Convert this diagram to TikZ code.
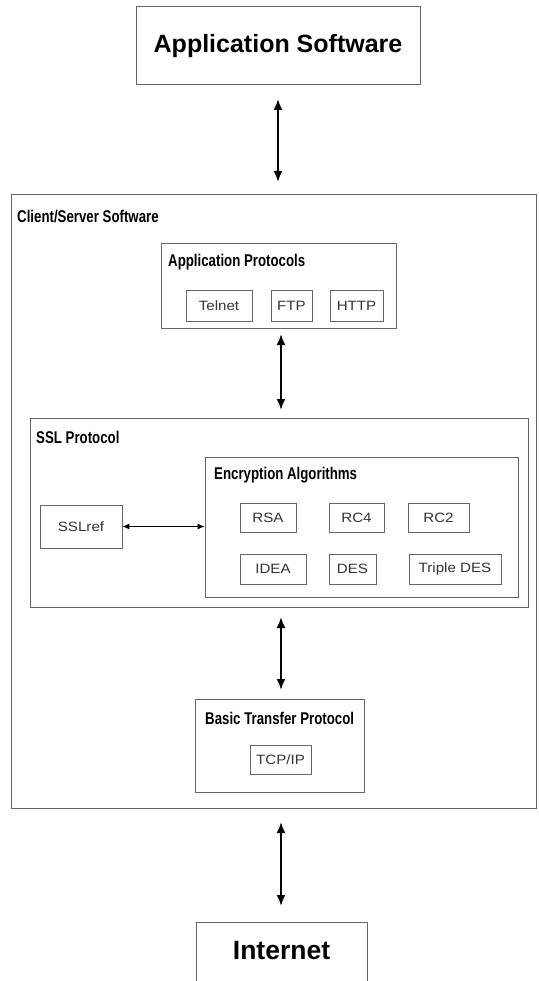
\documentclass[tikz,border=0pt]{standalone}
\usepackage{fontspec}
\setmainfont{Liberation Sans}
\newfontfamily\titlefont{Liberation Sans Bold}
\newfontfamily\groupfont[FakeStretch=0.78]{Liberation Sans Bold}
\newfontfamily\itemfont[FakeStretch=1.12]{Liberation Sans}
\usetikzlibrary{arrows.meta}

\tikzset{
  frame/.style={draw=black!60, line width=0.8pt, rectangle, inner sep=0pt},
  itembox/.style={frame, font=\itemfont\fontsize{13.5}{14}\selectfont, text=black!80},
  grouplabel/.style={anchor=west, inner sep=0pt, font=\groupfont\fontsize{17}{18}\selectfont},
  titlelabel/.style={inner sep=0pt, font=\titlefont\fontsize{25}{26}\selectfont},
  biarrow/.style={{Latex[length=11pt,width=9pt]}-{Latex[length=11pt,width=9pt]}, line width=1.9pt},
  thinarrow/.style={{Latex[length=7pt,width=6pt]}-{Latex[length=7pt,width=6pt]}, line width=1pt}
}

% box from corner (x1,y1) to corner (x2,y2), y measured downwards
\newcommand{\rbox}[6]{%
  \node[#1, minimum width={#5-#3}, minimum height={#6-#4}] (#2) at ({(#3+#5)/2},{(#4+#6)/2}) {};}

\begin{document}
\begin{tikzpicture}[x=1pt, y=-1pt]
\useasboundingbox (0,0) rectangle (538,981);
\clip (0,0) rectangle (538,981);

% top: application software
\rbox{frame}{appsw}{136}{6}{420}{84}
\node[titlelabel] (appswlabel) at (278,46) {Application Software};

% client/server software container
\rbox{frame}{client}{11}{194}{536}{808}
\node[grouplabel] (clientlabel) at (17,217) {Client/Server Software};

% application protocols
\rbox{frame}{approto}{161}{243}{396}{328}
\node[grouplabel] (approtolabel) at (168,262) {Application Protocols};
\node[itembox, minimum width=66, minimum height=31] (telnet) at (219,306) {Telnet};
\node[itembox, minimum width=41, minimum height=31] (ftp) at (291.5,306) {FTP};
\node[itembox, minimum width=53, minimum height=31] (http) at (356.5,306) {HTTP};

% SSL protocol
\rbox{frame}{ssl}{30}{418}{528}{607}
\node[grouplabel] (ssllabel) at (36,437) {SSL Protocol};
\node[itembox, minimum width=82, minimum height=43] (sslref) at (81,526.5) {SSLref};

% encryption algorithms
\rbox{frame}{enc}{205}{457}{518}{597}
\node[grouplabel] (enclabel) at (214,475) {Encryption Algorithms};
\node[itembox, minimum width=56, minimum height=29] (rsa) at (268,517.5) {RSA};
\node[itembox, minimum width=55, minimum height=29] (rc4) at (356.5,517.5) {RC4};
\node[itembox, minimum width=61, minimum height=29] (rc2) at (438.5,517.5) {RC2};
\node[itembox, minimum width=66, minimum height=30] (idea) at (273,569) {IDEA};
\node[itembox, minimum width=47, minimum height=30] (des) at (352.5,569) {DES};
\node[itembox, minimum width=92, minimum height=30] (tdes) at (455,569) {Triple DES};

% basic transfer protocol
\rbox{frame}{btp}{195}{699}{364}{792}
\node[grouplabel] (btplabel) at (205,718) {Basic Transfer Protocol};
\node[itembox, minimum width=61, minimum height=29] (tcpip) at (280.5,760) {TCP/IP};

% internet
\rbox{frame}{internet}{196}{922}{367}{1000}
\node[titlelabel, font=\titlefont\fontsize{26.5}{27}\selectfont] (internetlabel) at (281.5,951) {Internet};

% connectors
\coordinate (a1s) at (278,99);  \coordinate (a1e) at (278,182);
\coordinate (a2s) at (281,334); \coordinate (a2e) at (281,410);
\coordinate (a3s) at (281,617); \coordinate (a3e) at (281,690);
\coordinate (a4s) at (281,822); \coordinate (a4e) at (281,906);
\draw[biarrow] (a1s) -- (a1e);
\draw[biarrow] (a2s) -- (a2e);
\draw[biarrow] (a3s) -- (a3e);
\draw[biarrow] (a4s) -- (a4e);
\draw[thinarrow] (sslref.east) -- (enc.west |- sslref.east);
\end{tikzpicture}
\end{document}
